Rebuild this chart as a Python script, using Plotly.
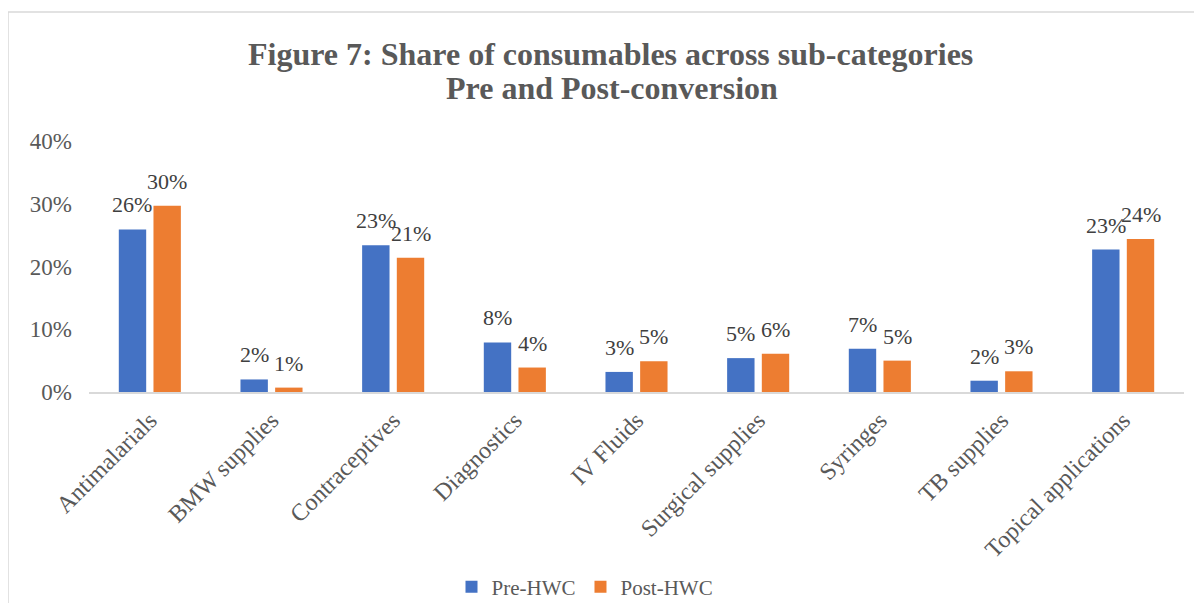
import plotly.graph_objects as go

categories = ["Antimalarials", "BMW supplies", "Contraceptives", "Diagnostics", "IV Fluids",
              "Surgical supplies", "Syringes", "TB supplies", "Topical applications"]
pre_hwc = [0.259, 0.020, 0.234, 0.079, 0.032, 0.054, 0.069, 0.018, 0.227]
post_hwc = [0.297, 0.007, 0.214, 0.039, 0.049, 0.061, 0.050, 0.033, 0.244]
y_ticks = [0, 0.1, 0.2, 0.3, 0.4]
y_tick_labels = ["0%", "10%", "20%", "30%", "40%"]
title_lines = ["Figure 7: Share of consumables across sub-categories", "Pre and Post-conversion"]

FONT = "Liberation Serif, Times New Roman, serif"

# plot area on screen (page has 8px body offset)
PL, PR, PT, PB = 89, 1184, 141, 392
def xp(X):
    return (X - PL) / (PR - PL)
def yp(Y):
    return (PB - Y) / (PB - PT)

BARGAP = 0.43
cat_w = (PR - PL) / len(categories)
half_slot = cat_w * (1 - BARGAP) / 4

fig = go.Figure()
series = [("Pre-HWC", pre_hwc, "#4472C4", -half_slot), ("Post-HWC", post_hwc, "#ED7D31", half_slot)]
for name, vals, col, shift in series:
    fig.add_trace(go.Bar(name=name, x=categories, y=vals, marker_color=col,
                         marker_line_width=0, textposition="none"))
    for c, v in zip(categories, vals):
        fig.add_annotation(x=c, y=v, xref="x", yref="y", text=f"{v:.0%}", showarrow=False,
                           xanchor="center", yanchor="bottom", xshift=shift, yshift=10,
                           font=dict(family=FONT, size=22, color="#404040"))

fig.update_layout(
    width=1202, height=603,
    paper_bgcolor="white", plot_bgcolor="white",
    margin=dict(l=PL - 8, r=1202 - (PR - 8), t=PT - 8, b=603 - (PB - 8), autoexpand=False),
    barmode="group", bargap=BARGAP, bargroupgap=0.21,
    font=dict(family=FONT, color="#595959"),
    showlegend=True,
    legend=dict(orientation="h", x=xp(585), xanchor="center", y=yp(587), yanchor="middle",
                font=dict(family=FONT, size=21, color="#595959"), traceorder="normal",
                itemwidth=30),
)
fig.add_annotation(text="<b>" + title_lines[0] + "</b>", xref="paper", yref="paper",
                   x=xp(610), y=yp(54), xanchor="center", yanchor="middle", showarrow=False,
                   font=dict(family=FONT, size=32, color="#595959"))
fig.add_annotation(text="<b>" + title_lines[1] + "</b>", xref="paper", yref="paper",
                   x=xp(612), y=yp(88), xanchor="center", yanchor="middle", showarrow=False,
                   font=dict(family=FONT, size=32, color="#595959"))

fig.update_yaxes(range=[0, 0.4], tickvals=y_ticks, ticktext=y_tick_labels,
                 showgrid=False, zeroline=False, showline=False, ticklabelstandoff=16,
                 automargin=False,
                 tickfont=dict(family=FONT, size=23, color="#595959"), ticks="", ticklen=0)
fig.update_xaxes(showline=True, linecolor="#D9D9D9", linewidth=1.5, tickangle=-45,
                 tickfont=dict(family=FONT, size=24, color="#595959"), ticks="",
                 ticklabelstandoff=3, automargin=False)

fig.add_shape(type="rect", xref="paper", yref="paper", x0=xp(8), x1=1.3, y0=-1.2, y1=yp(12),
              line=dict(color="#D9D9D9", width=1.5), fillcolor="rgba(0,0,0,0)", layer="below")

fig.write_html("out.html")
